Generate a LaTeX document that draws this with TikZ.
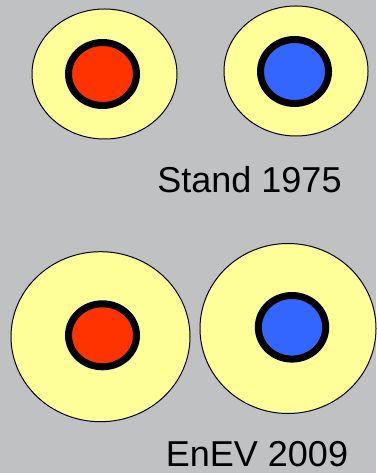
\documentclass[tikz,border=0pt]{standalone}
\usepackage{fontspec}
\setmainfont{Liberation Sans}
\usepackage{tikz}
\usepackage{xcolor}
\usetikzlibrary{positioning}

\begin{document}
\begin{tikzpicture}[x=0.75pt,y=0.75pt,yscale=-1,xscale=1]
%Background
\fill [color={rgb, 255:red, 192; green, 193; blue, 195 }  ,fill opacity=1 ] (0,0) rectangle (376,473) ;
\useasboundingbox (0,0) rectangle (376,473) ;
%Shape: Ellipse [id:top left outer] 
\draw  [fill={rgb, 255:red, 255; green, 255; blue, 153 }  ,fill opacity=1 ][line width=0.75]  (104.5,74) ellipse (72.5 and 65) ;
%Shape: Ellipse [id:top left inner] 
\draw  [fill={rgb, 255:red, 255; green, 51; blue, 0 }  ,fill opacity=1 ][line width=5.25]  (102.5,74) ellipse (34 and 31.5) ;
%Shape: Ellipse [id:top right outer] 
\draw  [fill={rgb, 255:red, 255; green, 255; blue, 153 }  ,fill opacity=1 ][line width=0.75]  (296,71) ellipse (72 and 65) ;
%Shape: Ellipse [id:top right inner] 
\draw  [fill={rgb, 255:red, 51; green, 102; blue, 255 }  ,fill opacity=1 ][line width=5.25]  (294.5,71.5) ellipse (34 and 32) ;
%Shape: Ellipse [id:bottom left outer] 
\draw  [fill={rgb, 255:red, 255; green, 255; blue, 153 }  ,fill opacity=1 ][line width=0.75]  (100.5,336.7) ellipse (89.5 and 85) ;
%Shape: Ellipse [id:bottom left inner] 
\draw  [fill={rgb, 255:red, 255; green, 51; blue, 0 }  ,fill opacity=1 ][line width=5.25]  (102.5,335.3) ellipse (34 and 31.5) ;
%Shape: Ellipse [id:bottom right outer] 
\draw  [fill={rgb, 255:red, 255; green, 255; blue, 153 }  ,fill opacity=1 ][line width=0.75]  (288,328.5) ellipse (88 and 85) ;
%Shape: Ellipse [id:bottom right inner] 
\draw  [fill={rgb, 255:red, 51; green, 102; blue, 255 }  ,fill opacity=1 ][line width=5.25]  (292,327.3) ellipse (33.7 and 31.8) ;

% Text Node
\node (stand) [anchor=base, inner sep=0.75pt, font=\fontsize{27}{32}\selectfont] at (249.5,193) {Stand 1975};
% Text Node
\node (enev) [anchor=base, inner sep=0.75pt, font=\fontsize{27}{32}\selectfont] at (257,466) {EnEV 2009};

\end{tikzpicture}
\end{document}
